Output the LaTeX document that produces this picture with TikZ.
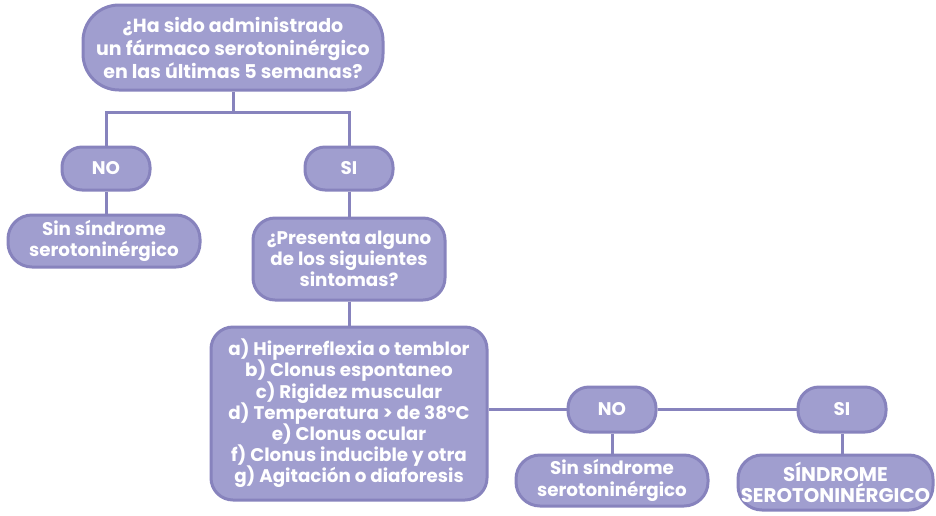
\documentclass[tikz,border=0pt]{standalone}
\usepackage{fontspec}
\setmainfont{Poppins}
\definecolor{boxfill}{HTML}{A09ECF}
\definecolor{boxline}{HTML}{8783BD}
\newcommand\myNoLineSkip{\lineskiplimit=-100pt\relax}
\begin{document}
\begin{tikzpicture}[x=1pt,y=-1pt,
  box/.style={draw=boxline, fill=boxfill, line width=3pt, text=white,
    font=\fontsize{18.3}{21.2}\selectfont\bfseries\myNoLineSkip, align=center, inner sep=0pt},
  link/.style={draw=boxline, line width=3pt}]
\useasboundingbox (0,0) rectangle (936,515);
\node[box, minimum width=300, minimum height=85, rounded corners=36,
  font=\fontsize{19}{23}\selectfont\bfseries\myNoLineSkip] (q1) at (233,47.5)
  {¿Ha sido administrado\\un fármaco serotoninérgico\\en las últimas 5 semanas?};
\node[box, minimum width=88, minimum height=43, rounded corners=20] (no1) at (106,168.5) {NO};
\node[box, minimum width=88, minimum height=43, rounded corners=20] (si1) at (349,168.5) {SI};
\node[box, minimum width=192, minimum height=52, rounded corners=24] (sin1) at (104,241) {Sin síndrome\\serotoninérgico};
\node[box, minimum width=192, minimum height=82, rounded corners=22] (q2) at (349,259) {¿Presenta alguno\\de los siguientes\\sintomas?};
\node[box, minimum width=276, minimum height=173, rounded corners=22] (list) at (349,413.5)
  {a) Hiperreflexia o temblor\\b) Clonus espontaneo\\c) Rigidez muscular\\d) Temperatura > de 38°C\\e) Clonus ocular\\f) Clonus inducible y otra\\g) Agitación o diaforesis};
\node[box, minimum width=88, minimum height=45, rounded corners=21] (no2) at (612,409.5) {NO};
\node[box, minimum width=88, minimum height=45, rounded corners=21] (si2) at (842,409.5) {SI};
\node[box, minimum width=192, minimum height=51, rounded corners=24] (sin2) at (612,480.5) {Sin síndrome\\serotoninérgico};
\node[box, minimum width=195, minimum height=55, rounded corners=24,
  font=\fontsize{19.8}{21.5}\selectfont\bfseries\myNoLineSkip] (sind) at (835.5,482.5) {SÍNDROME\\SEROTONINÉRGICO};
\coordinate (j) at (233,112);
\draw[link] (q1.south) -- (j);
\draw[link] (no1.north) |- (j) -| (si1.north);
\draw[link] (no1) -- (sin1.north -| no1);
\draw[link] (si1) -- (q2);
\draw[link] (q2) -- (list);
\draw[link] (list.east |- no2) -- (no2.west);
\draw[link] (no2.east) -- (si2.west);
\draw[link] (no2) -- (sin2);
\draw[link] (si2) -- (si2 |- sind.north);
\end{tikzpicture}
\end{document}
